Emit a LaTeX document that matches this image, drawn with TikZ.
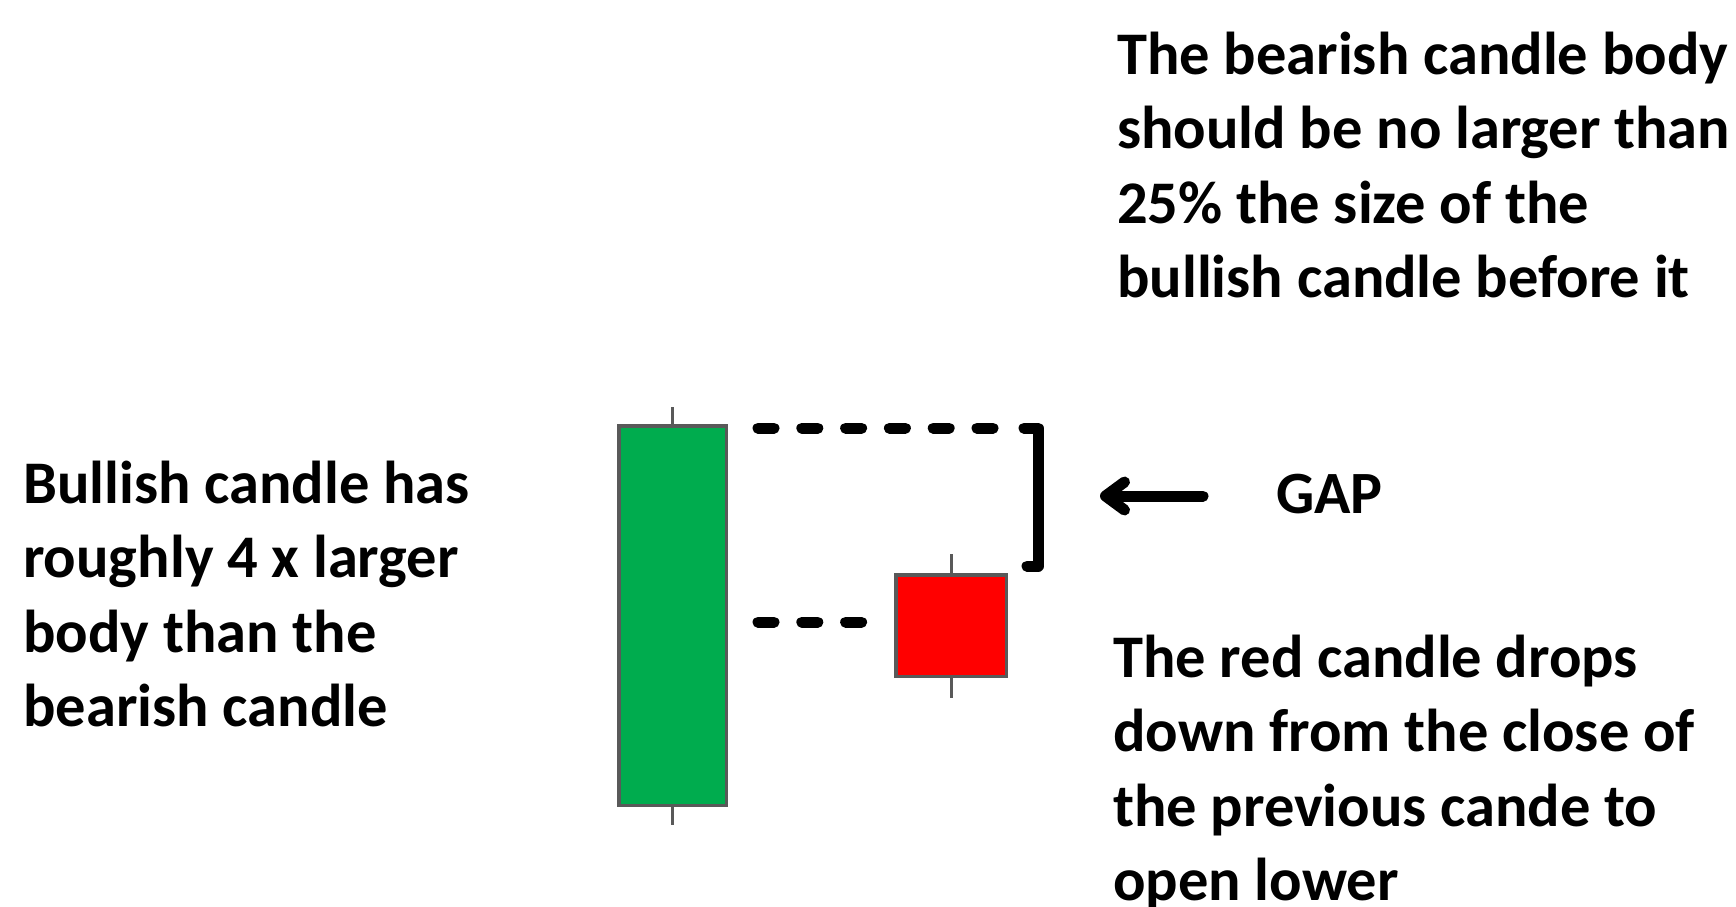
\documentclass[tikz,border=0pt]{standalone}
\usepackage{fontspec}
\setmainfont{Carlito}
\usetikzlibrary{arrows.meta}
\definecolor{bullgreen}{HTML}{00AC4E}
\definecolor{bearred}{HTML}{FF0000}
\definecolor{edgegray}{HTML}{595959}
\tikzset{
  candle/.style={draw=edgegray, line width=3.5pt, inner sep=0pt, outer sep=0pt},
  wick/.style={draw=edgegray, line width=3pt},
  guide/.style={line width=11pt, line cap=round, dash pattern=on 16pt off 27.8pt},
  bracket/.style={line width=11pt, line cap=round, line join=round},
  pointer/.style={line width=11pt, line cap=round,
    -{Straight Barb[length=19pt, width=28pt, round]}},
  note/.style={anchor=base west, inner sep=0pt,
    font=\fontsize{60.5}{74.5}\selectfont\bfseries},
  label/.style={anchor=base west, inner sep=0pt,
    font=\fontsize{60}{72}\selectfont\bfseries},
}
\begin{document}
\begin{tikzpicture}[x=1pt, y=-1pt]
\useasboundingbox (0,0) rectangle (1736,906);

% candle bodies
\node (bull) [candle, fill=bullgreen, minimum width=107.5pt, minimum height=379.5pt] at (672.5,615.5) {};
\node (bear) [candle, fill=bearred, minimum width=110.5pt, minimum height=101.5pt] at (951,625.5) {};

% wicks
\draw[wick] (bull.north) -- ++(0,-19);
\draw[wick] (bull.south) -- ++(0,20);
\draw[wick] (bear.north) -- ++(0,-21);
\draw[wick] (bear.south) -- ++(0,22);

% guide lines from the bullish candle
\coordinate (openA) at (758,428);
\coordinate (openB) at (993,428);
\coordinate (closeA) at (758,622);
\coordinate (closeB) at (862,622);
\draw[guide] (openA) -- (openB);
\draw[guide] (closeA) -- (closeB);

% gap bracket
\coordinate (brA) at (1024,428);
\coordinate (brB) at (1038,428);
\coordinate (brC) at (1038,566);
\coordinate (brD) at (1027,566);
\draw[bracket] (brA) -- (brB) -- (brC) -- (brD);

% gap label and pointer
\node (gap) [label] at (1276,513) {GAP};
\coordinate (ptrTail) at (1203,496);
\coordinate (ptrTip) at (1100,496);
\draw[pointer] (ptrTail) -- (ptrTip);

% notes
\node (noteTop) [note] at (1117,74) {\begin{tabular}[t]{@{}l@{}}The bearish candle body\\should be no larger than\\25\% the size of the\\bullish candle before it\end{tabular}};
\node (noteLeft) [note] at (23,503) {\begin{tabular}[t]{@{}l@{}}Bullish candle has\\roughly 4 x larger\\body than the\\bearish candle\end{tabular}};
\node (noteBottom) [note] at (1113,677) {\begin{tabular}[t]{@{}l@{}}The red candle drops\\down from the close of\\the previous cande to\\open lower\end{tabular}};
\end{tikzpicture}
\end{document}
